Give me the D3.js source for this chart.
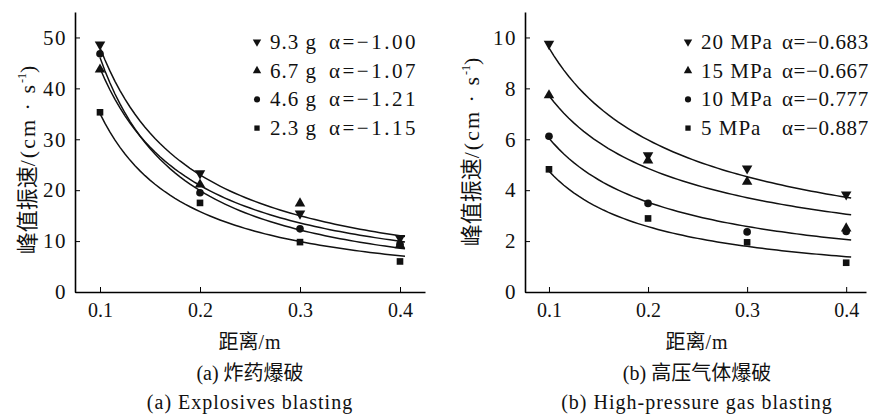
<!DOCTYPE html>
<html>
<head>
<meta charset="utf-8">
<script src="https://cdn.jsdelivr.net/npm/d3@7"></script>
</head>
<body style="margin:0;background:#fff">
<script>
const distances = [0.1, 0.2, 0.3, 0.4];

// (a) explosives
const chargeLabels = ['9.3 g', '6.7 g', '4.6 g', '2.3 g'];
const chargeAlpha = ['α=−1.00', 'α=−1.07', 'α=−1.21', 'α=−1.15'];
const chargeValues = [
    [48.6, 23.3, 15.4, 10.6],
    [43.7, 21.1, 17.4, 9.2],
    [46.8, 19.5, 12.4, 9.4],
    [35.3, 17.5, 9.8, 6.0]
];
// drawn fit curves v = k * d^a
const chargeK = [4.18, 3.74, 2.84, 2.48];
const chargeA = [-1.06, -1.07, -1.21, -1.15];

// (b) high-pressure gas
const pressureLabels = ['20 MPa', '15 MPa', '10 MPa', '5 MPa'];
const pressureAlpha = ['α=−0.683', 'α=−0.667', 'α=−0.777', 'α=−0.887'];
const pressureValues = [
    [9.75, 5.37, 4.85, 3.83],
    [7.73, 5.17, 4.33, 2.50],
    [6.12, 3.48, 2.36, 2.38],
    [4.82, 2.89, 1.95, 1.15]
];
const pressureK = [1.99, 1.66, 1.01, 0.616];
const pressureA = [-0.683, -0.667, -0.777, -0.887];

const xTicks = [0.1, 0.2, 0.3, 0.4];
const yTicksA = [0, 10, 20, 30, 40, 50];
const yTicksB = [0, 2, 4, 6, 8, 10];

const width = 871;
const height = 414;
const serif = 'Liberation Serif';
const zh = 'Noto Sans CJK SC';

const svg = d3.select('body').append('svg')
    .attr('width', width)
    .attr('height', height)
    .attr('font-family', serif);

const symbols = [
    d3.symbol().type(d3.symbolTriangle).size(48),
    d3.symbol().type(d3.symbolTriangle).size(48),
    d3.symbol().type(d3.symbolCircle).size(46),
    d3.symbol().type(d3.symbolSquare).size(44)
];
const rotations = [180, 0, 0, 0];

function panel(opts) {
    const g = svg.append('g');
    const x = d3.scaleLinear().domain(opts.xDomain).range(opts.xRange);
    const y = d3.scaleLinear().domain(opts.yDomain).range([292, 12]);

    g.append('g')
        .attr('transform', 'translate(0,292)')
        .call(d3.axisBottom(x).tickValues(xTicks).tickFormat(d3.format('.1f')).tickSizeInner(-5).tickSizeOuter(0).tickPadding(11))
        .call(a => a.selectAll('text').attr('font-family', serif).attr('font-size', 20).attr('fill', '#111'))
        .call(a => a.select('.domain').attr('stroke-width', 1.6));

    g.append('g')
        .attr('transform', `translate(${opts.xRange[0]},0)`)
        .call(d3.axisLeft(y).tickValues(opts.yTicks).tickSizeInner(-5).tickSizeOuter(0).tickPadding(8))
        .call(a => a.selectAll('text').attr('font-family', serif).attr('font-size', 21)
            .attr('letter-spacing', 1.5).attr('fill', '#111'))
        .call(a => a.select('.domain').attr('stroke-width', 1.6));

    const line = d3.line().x(d => x(d[0])).y(d => y(d[1]));
    const xs = d3.range(0.1, 0.4051, 0.005);
    opts.k.forEach((k, i) => {
        g.append('path')
            .attr('d', line(xs.map(d => [d, k * Math.pow(d, opts.a[i])])))
            .attr('fill', 'none')
            .attr('stroke', '#111')
            .attr('stroke-width', 1.5);
    });

    opts.values.forEach((vals, i) => {
        g.append('g').selectAll('path')
            .data(vals)
            .join('path')
            .attr('d', symbols[i])
            .attr('fill', '#111')
            .attr('transform', (d, j) => `translate(${x(distances[j])},${y(d)}) rotate(${rotations[i]})`);
    });

    // legend
    const leg = g.append('g');
    opts.labels.forEach((lab, i) => {
        const yy = 42 + i * 28.7;
        leg.append('path')
            .attr('d', symbols[i])
            .attr('fill', '#111')
            .attr('transform', `translate(${opts.legX},${yy}) rotate(${rotations[i]}) scale(0.8)`);
        leg.append('text')
            .attr('x', opts.legX + 13).attr('y', yy + 7)
            .attr('font-size', 21).attr('letter-spacing', 1).attr('fill', '#111')
            .text(lab);
        leg.append('text')
            .attr('x', opts.alphaX).attr('y', yy + 7)
            .attr('font-size', 21).attr('letter-spacing', opts.alphaSpacing).attr('fill', '#111')
            .text(opts.alphas[i]);
    });

    // y label
    const yl = g.append('text')
        .attr('transform', `translate(${opts.yLabelX},${opts.yLabelY}) rotate(-90)`)
        .attr('text-anchor', 'middle')
        .attr('font-size', 22).attr('fill', '#111');
    yl.append('tspan').attr('font-family', zh).text('峰值振速');
    yl.append('tspan').attr('letter-spacing', 2).text('/(cm · s');
    yl.append('tspan').attr('font-size', 12).attr('dy', -9).text('-1');
    yl.append('tspan').attr('dy', 9).text(')');

    const cx = opts.captionX;
    const xl = g.append('text').attr('x', cx).attr('y', 349).attr('text-anchor', 'middle')
        .attr('font-size', 20).attr('fill', '#111');
    xl.append('tspan').attr('font-family', zh).text('距离');
    xl.append('tspan').attr('letter-spacing', 1).text('/m');

    const c1 = g.append('text').attr('x', cx).attr('y', 380).attr('text-anchor', 'middle')
        .attr('font-size', 20).attr('fill', '#111');
    c1.append('tspan').text(opts.tag + ' ');
    c1.append('tspan').attr('font-family', zh).text(opts.zh);

    g.append('text').attr('x', cx).attr('y', 409).attr('text-anchor', 'middle')
        .attr('font-size', 20).attr('letter-spacing', 1).attr('fill', '#111').text(opts.en);
}

panel({
    xDomain: [0.075, 0.425], xRange: [75, 425],
    yDomain: [0, 55], yTicks: yTicksA,
    values: chargeValues, k: chargeK, a: chargeA,
    labels: chargeLabels, alphas: chargeAlpha,
    legX: 257, alphaX: 329, alphaSpacing: 2.5,
    yLabelX: 35, yLabelY: 160,
    captionX: 250, tag: '(a)', zh: '炸药爆破', en: '(a) Explosives blasting'
});

panel({
    xDomain: [0.0758, 0.42], xRange: [525, 866],
    yDomain: [0, 11], yTicks: yTicksB,
    values: pressureValues, k: pressureK, a: pressureA,
    labels: pressureLabels, alphas: pressureAlpha,
    legX: 688, alphaX: 782, alphaSpacing: 0.6,
    yLabelX: 479, yLabelY: 152,
    captionX: 697, tag: '(b)', zh: '高压气体爆破', en: '(b) High-pressure gas blasting'
});
</script>
</body>
</html>
